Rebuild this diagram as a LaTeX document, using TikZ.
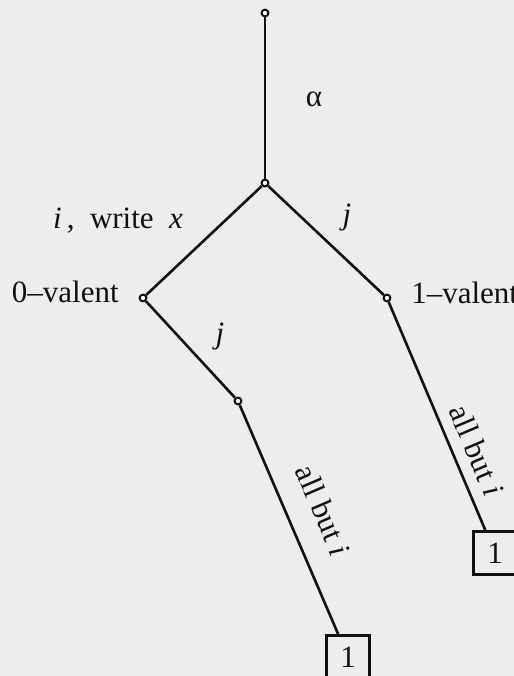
\documentclass[tikz,border=0pt]{standalone}
\usepackage{fontspec}
\setmainfont{Liberation Serif}
\usepackage{xcolor}
\usepackage{tikz}
\usetikzlibrary{positioning}
\definecolor{paper}{HTML}{ECEDED}
\definecolor{ink}{HTML}{111111}

\begin{document}
\begin{tikzpicture}[x=0.5pt,y=-0.5pt,line width=1.3pt,color=ink,font=\fontsize{15.5pt}{18pt}\selectfont]
      \tikzstyle{vertex}=[circle,draw=ink,fill=white,line width=1pt,inner sep=0pt,minimum size=3.4pt]
      \tikzstyle{leaf}=[draw=ink,line width=1.4pt,minimum size=21.5pt,inner sep=0pt]
      \tikzstyle{edgelab}=[inner sep=0pt]
      \clip (0,0) rectangle (514,676);
      \fill[paper] (0,0) rectangle (514,676);
      % run tree
      \node[vertex] (root) at (265,13) {};
      \node[vertex] (fork) at (265,183) {};
      \node[vertex] (zero) at (143,298) {};
      \node[vertex] (one) at (387,298) {};
      \node[vertex] (jstep) at (238,401) {};
      \node[leaf] (leafzero) at (348,657) {1};
      \node[leaf] (leafone) at (495,553) {1};
      \draw (root) -- (fork);
      \draw (fork) -- (zero);
      \draw (fork) -- (one);
      \draw (zero) -- (jstep);
      \draw (jstep) -- node[edgelab,sloped,above=11.5pt,pos=0.52] {all but \textit{i}} (leafzero);
      \draw (one) -- node[edgelab,sloped,above=5.5pt,pos=0.69] {all but \textit{i}} (leafone);
      % step labels
      \node[edgelab] (alpha) at (314,99) {α};
      \node[edgelab,anchor=base] (iwrite) at (118,228) {\textit{i}\,,\ \ write\ \ \textit{x}};
      \node[edgelab,anchor=base] (jright) at (347,224) {\textit{j}};
      \node[edgelab,anchor=base] (jleft) at (220,343) {\textit{j}};
      \node[edgelab,anchor=base east] (zerolab) at (120,302) {0–valent};
      \node[edgelab,anchor=base west] (onelab) at (410,303) {1–valent};
    \end{tikzpicture}
\end{document}
